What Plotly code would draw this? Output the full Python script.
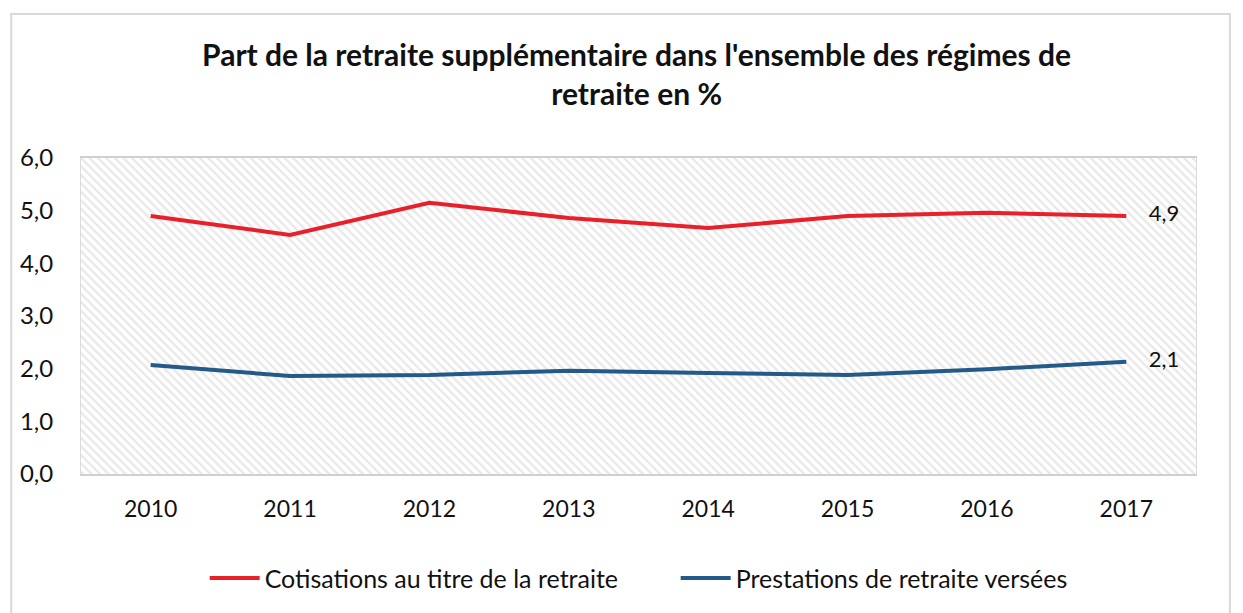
import plotly.graph_objects as go

years = ["2010", "2011", "2012", "2013", "2014", "2015", "2016", "2017"]
cotisations = [4.90, 4.54, 5.15, 4.86, 4.67, 4.90, 4.96, 4.90]
prestations = [2.07, 1.86, 1.88, 1.96, 1.92, 1.88, 1.99, 2.13]
y_ticks = [0, 1, 2, 3, 4, 5, 6]
title_text = "Part de la retraite supplémentaire dans l'ensemble des régimes de<br>retraite en %"

FONT = "Lato"
W, H = 1235, 605
PAD = "\u00a0" * 4

def last_label(vals):
    return [""] * (len(vals) - 1) + [PAD + f"{vals[-1]:.1f}".replace(".", ",")]

fig = go.Figure()

# hatched plot-area background (decoration on hidden base axes)
fig.add_trace(go.Bar(
    x=[0.5], y=[1], width=[1], xaxis="x", yaxis="y",
    marker=dict(color="white", line=dict(width=0),
                pattern=dict(shape="\\", fgcolor="#d2d2d2", bgcolor="white", size=6, solidity=0.4)),
    showlegend=False, hoverinfo="skip",
))

series = [
    ("Cotisations au titre de la retraite", cotisations, "#e8202a"),
    ("Prestations de retraite versées", prestations, "#235a8a"),
]
for name, vals, col in series:
    fig.add_trace(go.Scatter(
        x=years, y=vals, name=name, mode="lines+text", xaxis="x2", yaxis="y2",
        line=dict(color=col, width=4),
        text=last_label(vals), textposition="middle right",
        textfont=dict(family=FONT, size=22, color="#111111"),
        cliponaxis=False,
    ))

fig.update_layout(
    width=W, height=H,
    paper_bgcolor="white", plot_bgcolor="white",
    separators=",.",
    margin=dict(l=70, r=47, t=150, b=139),
    title=dict(text=title_text, x=0.509, xanchor="center", y=1 - 58 / H, yanchor="top",
               font=dict(family=FONT, size=30, color="#111111", weight="bold")),
    font=dict(family=FONT, size=23, color="#111111"),
    xaxis=dict(range=[0, 1], visible=False, fixedrange=True),
    yaxis=dict(range=[0, 1], visible=False, fixedrange=True),
    xaxis2=dict(overlaying="x", type="category", range=[-0.5, 7.5],
                showgrid=True, gridcolor="#dcdcdc", gridwidth=1.5,
                dtick=1, ticks="", showline=True, linecolor="#d0d0d0", linewidth=1.5,
                tickfont=dict(family=FONT, size=23), ticklabelstandoff=14,
                mirror=True),
    yaxis2=dict(overlaying="y", range=[0, 6], tickvals=y_ticks, tickformat=".1f",
                showgrid=True, gridcolor="#dcdcdc", gridwidth=1.5, zeroline=False,
                showline=True, linecolor="#dcdcdc", mirror=True,
                tickfont=dict(family=FONT, size=24), ticklabelstandoff=22),
    legend=dict(orientation="h", x=(207 - 5 - 78) / 1118, xanchor="left", y=-0.33, yanchor="middle",
                font=dict(family=FONT, size=25), itemwidth=50,
                entrywidth=406, entrywidthmode="pixels",
                traceorder="normal"),
    bargap=0,
    shapes=[dict(type="rect", xref="paper", yref="paper", x0=-70 / 1118, x1=1152 / 1118,
                 y0=-0.6, y1=1 + 144 / 316,
                 line=dict(color="#d9d9d9", width=2), fillcolor="rgba(0,0,0,0)", layer="below")],
)

# vertical grid at half-category positions
for i in range(len(years) - 1):
    fig.add_shape(type="line", xref="x2", yref="y2", x0=i + 0.5, x1=i + 0.5, y0=0, y1=6,
                  line=dict(color="#dcdcdc", width=1.5), layer="below")

fig.write_html("out.html")
